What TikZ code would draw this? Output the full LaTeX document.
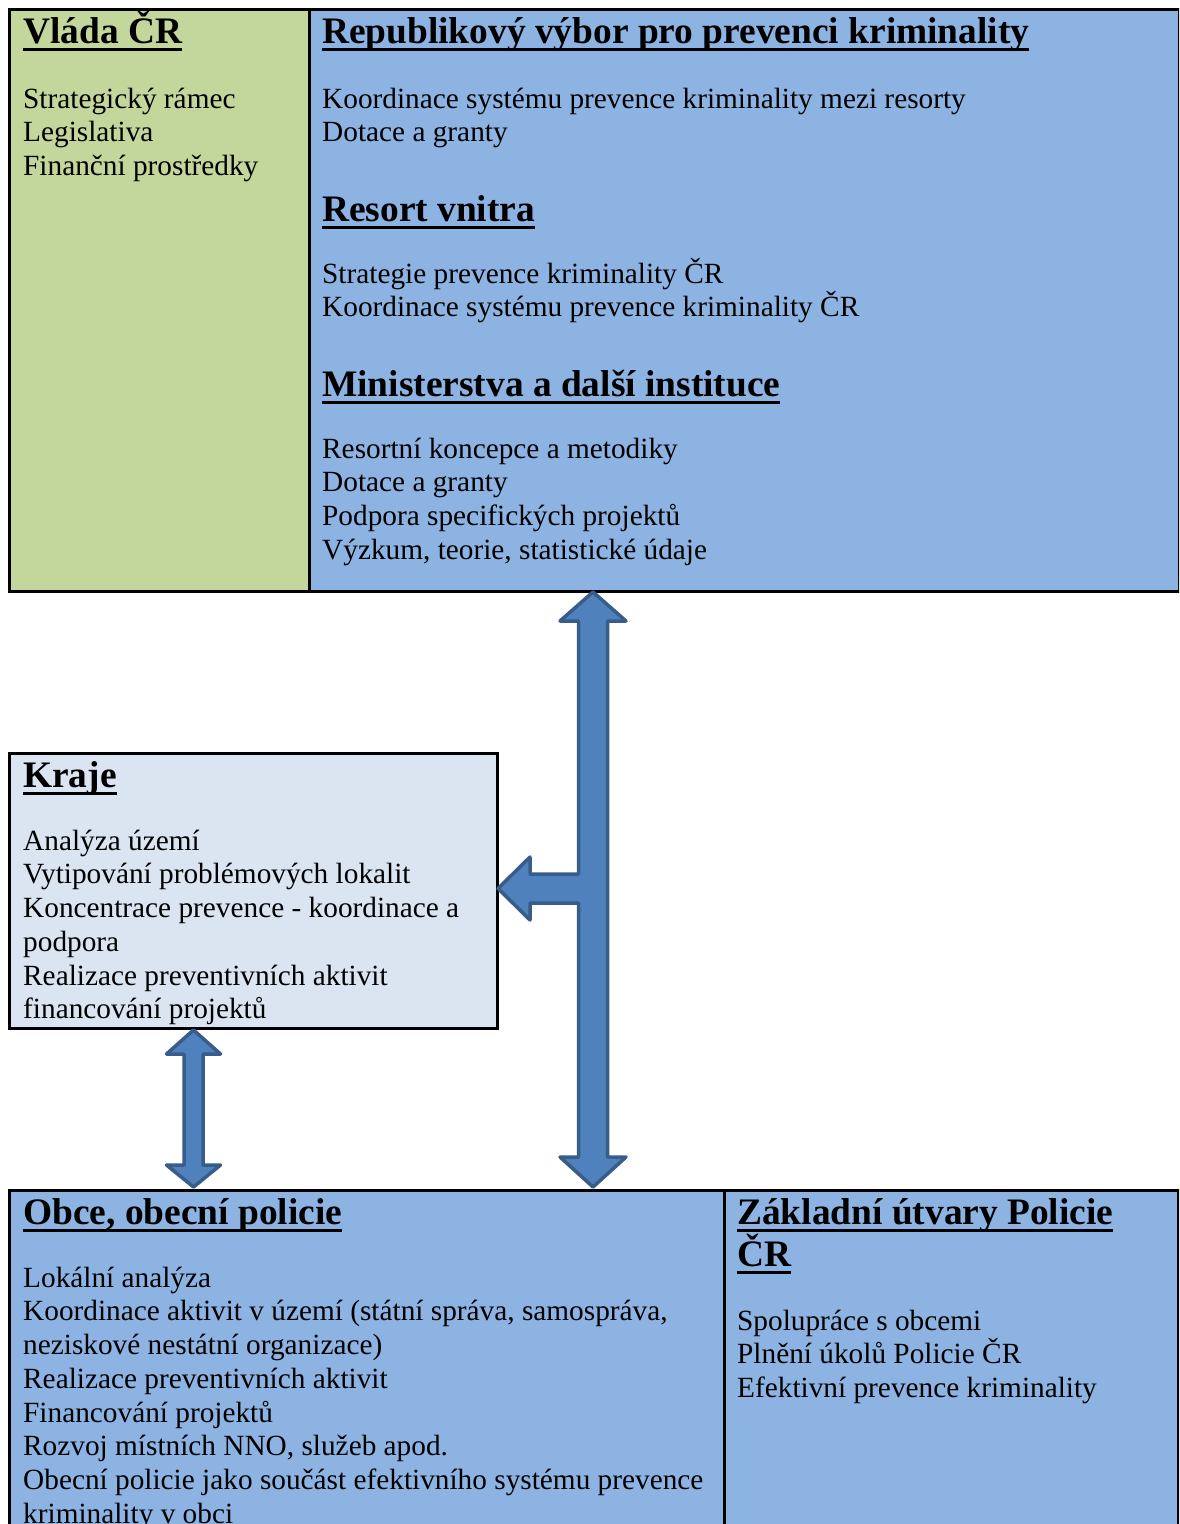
\documentclass[tikz,border=0pt]{standalone}
\usepackage{fontspec}
\setmainfont{Liberation Serif}
\definecolor{vgreen}{HTML}{C3D69B}
\definecolor{vblue}{HTML}{8DB3E2}
\definecolor{vlight}{HTML}{DBE5F1}
\definecolor{afill}{HTML}{4F81BD}
\definecolor{aline}{HTML}{385D8A}
\newsavebox\hdbox
\newcommand\hul[1]{\sbox\hdbox{#1}\makebox[0pt][l]{\rule[-8pt]{\wd\hdbox}{3pt}}\usebox\hdbox}
\newcommand\txtlines[4]{\foreach \t [count=\k] in {#4}{\node[body] (#1\k) at (#2,{#3+(\k-1)*33.75}) {\t};}}
\tikzset{
  body/.style={inner sep=0pt, anchor=base west, font=\fontsize{29.3}{34}\selectfont},
  head/.style={inner sep=0pt, anchor=base west, font=\fontsize{37.4}{42}\selectfont\bfseries},
  boxst/.style={draw=black, line width=2.5pt, inner sep=0pt, anchor=north west},
  blockarrow/.style={fill=afill, draw=aline, line width=3.5pt, line join=round}
}
\begin{document}
\begin{tikzpicture}[x=1pt,y=-1pt]
\clip (0,0) rectangle (1179,1524);
\fill[white] (0,0) rectangle (1179,1524);
% boxes
\node[boxst, fill=vgreen, minimum width=300, minimum height=582] (vlada) at (8,8) {};
\node[boxst, fill=vblue, minimum width=870, minimum height=582] (rep) at (308,8) {};
\node[boxst, fill=vlight, minimum width=488, minimum height=275] (kraje) at (8,752) {};
\node[boxst, fill=vblue, minimum width=715, minimum height=400] (obce) at (8,1189) {};
\node[boxst, fill=vblue, minimum width=454, minimum height=400] (zakl) at (723,1189) {};
% arrows
\coordinate (t1) at (593,592);
\coordinate (t2) at (593,1187);
\coordinate (t3) at (498,888.5);
\draw[blockarrow] (t1) -- (626,621) -- (607.5,621) -- (607.5,1157) -- (626,1157) -- (t2)
  -- (560,1157) -- (578.5,1157) -- (578.5,903) -- (530,903) -- (530,920) -- (t3)
  -- (530,857) -- (530,874) -- (578.5,874) -- (578.5,621) -- (560,621) -- cycle;
\coordinate (s1) at (193.5,1030);
\coordinate (s2) at (193.5,1187);
\draw[blockarrow] (s1) -- (220.5,1054) -- (203,1054) -- (203,1165) -- (220.5,1165) -- (s2)
  -- (166.5,1165) -- (184,1165) -- (184,1054) -- (166.5,1054) -- cycle;
% texts
\node[head] (hvlada) at (23,43) {\hul{Vláda ČR}};
\txtlines{bv}{23}{108}{Strategický rámec, Legislativa, Finanční prostředky}
\node[head] (hrep) at (322,43) {\hul{Republikový výbor pro prevenci kriminality}};
\txtlines{br}{322}{108}{Koordinace systému prevence kriminality mezi resorty, Dotace a granty}
\node[head] (hres) at (322,221) {\hul{Resort vnitra}};
\txtlines{bs}{322}{283}{Strategie prevence kriminality ČR, Koordinace systému prevence kriminality ČR}
\node[head] (hmin) at (322,396) {\hul{Ministerstva a další instituce}};
\txtlines{bm}{322}{458}{Resortní koncepce a metodiky, Dotace a granty, Podpora specifických projektů, {Výzkum, teorie, statistické údaje}}
\node[head] (hkr) at (23,787) {\hul{Kraje}};
\txtlines{bk}{23}{850}{Analýza území, Vytipování problémových lokalit, Koncentrace prevence - koordinace a, podpora, Realizace preventivních aktivit, financování projektů}
\node[head] (hob) at (23,1224) {\hul{Obce, obecní policie}};
\txtlines{bo}{23}{1287}{Lokální analýza, {Koordinace aktivit v území (státní správa, samospráva,}, neziskové nestátní organizace), Realizace preventivních aktivit, Financování projektů, {Rozvoj místních NNO, služeb apod.}, Obecní policie jako součást efektivního systému prevence, kriminality v obci}
\node[head] (hz1) at (737,1224) {\hul{Základní útvary Policie}};
\node[head] (hz2) at (737,1266) {\hul{ČR}};
\txtlines{bz}{737}{1330}{Spolupráce s obcemi, Plnění úkolů Policie ČR, Efektivní prevence kriminality}
\end{tikzpicture}
\end{document}
